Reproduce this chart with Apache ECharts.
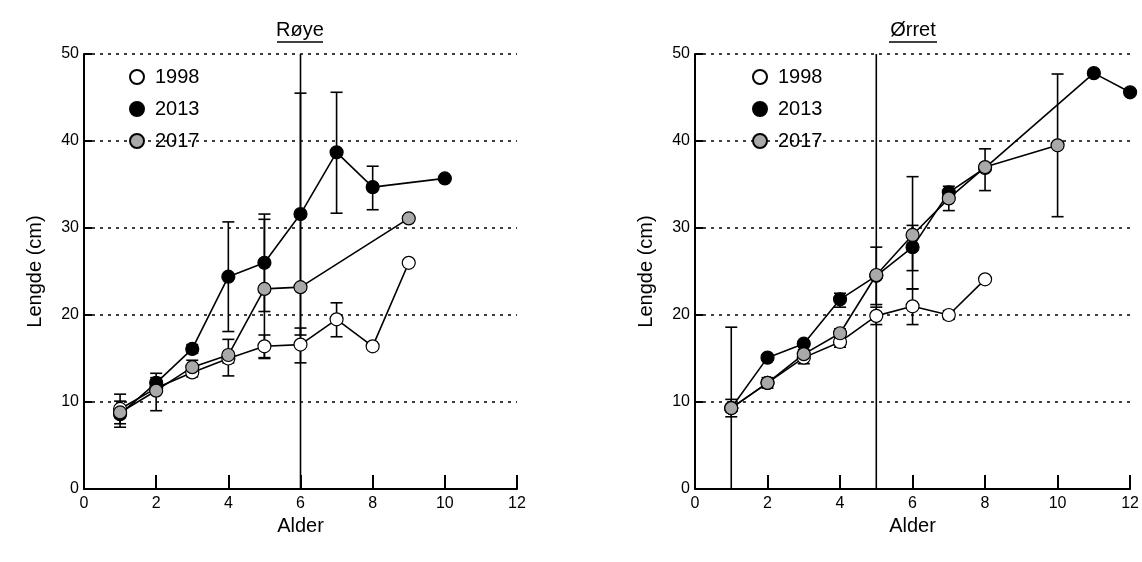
<!DOCTYPE html>
<html>
<head>
<meta charset="utf-8">
<script src="https://cdn.jsdelivr.net/npm/echarts@6/dist/echarts.min.js"></script>
<style>
  html, body { margin: 0; padding: 0; background: #fff; }
  #main { width: 1142px; height: 562px; }
</style>
</head>
<body>
<div id="main"></div>
<script>
// Røye (left panel)
var royeAge1998 = [1, 2, 3, 4, 5, 6, 7, 8, 9];
var royeLen1998 = [9.2, 11.6, 13.4, 15.0, 16.4, 16.6, 19.5, 16.4, 26.0];
var royeLo1998  = [7.5, 11.0, 12.9, 14.5, 15.1, 14.5, 17.5, 16.1, 25.7];
var royeHi1998  = [10.9, 12.2, 13.9, 15.5, 17.7, 18.5, 21.4, 16.7, 26.3];

var royeAge2013 = [1, 2, 3, 4, 5, 6, 7, 8, 10];
var royeLen2013 = [8.6, 12.2, 16.1, 24.4, 26.0, 31.6, 38.7, 34.7, 35.7];
var royeLo2013  = [7.1, 11.6, 15.6, 18.1, 20.4, 17.7, 31.7, 32.1, 35.5];
var royeHi2013  = [10.1, 12.8, 16.6, 30.7, 31.6, 45.5, 45.6, 37.1, 35.9];

var royeAge2017 = [1, 2, 3, 4, 5, 6, 9];
var royeLen2017 = [8.8, 11.3, 14.0, 15.4, 23.0, 23.2, 31.1];
var royeLo2017  = [8.2, 9.0, 13.2, 13.0, 15.0, -8.0, 30.8];
var royeHi2017  = [9.4, 13.3, 14.8, 17.2, 31.0, 54.0, 31.4];

// Ørret (right panel)
var orretAge1998 = [1, 2, 3, 4, 5, 6, 7, 8];
var orretLen1998 = [9.3, 12.2, 15.1, 16.9, 19.9, 21.0, 20.0, 24.1];
var orretLo1998  = [8.3, 11.6, 14.4, 16.3, 18.9, 18.9, 19.5, 23.8];
var orretHi1998  = [10.3, 12.8, 15.8, 17.5, 20.9, 23.0, 20.5, 24.4];

var orretAge2013 = [1, 2, 3, 4, 5, 6, 7, 8, 11, 12];
var orretLen2013 = [9.3, 15.1, 16.7, 21.8, 24.5, 27.8, 34.1, 36.9, 47.8, 45.6];
var orretLo2013  = [8.9, 14.8, 16.4, 20.9, 21.2, 25.1, 33.8, 36.6, 47.6, 45.4];
var orretHi2013  = [9.7, 15.4, 17.0, 22.5, 27.8, 30.3, 34.4, 37.2, 48.0, 45.8];

var orretAge2017 = [1, 2, 3, 4, 5, 6, 7, 8, 10];
var orretLen2017 = [9.3, 12.2, 15.5, 17.9, 24.6, 29.2, 33.4, 37.0, 39.5];
var orretLo2017  = [-0.1, 11.9, 15.0, 17.4, -5.4, 23.0, 32.0, 34.3, 31.3];
var orretHi2017  = [18.6, 12.5, 16.0, 18.4, 54.6, 35.9, 34.8, 39.1, 47.7];

var years = ['1998', '2013', '2017'];

var FONT = 'Liberation Sans, Arial, sans-serif';
var fills = { '1998': '#ffffff', '2013': '#000000', '2017': '#a9a9a9' };

function errorSeries(grid, name, ages, lo, hi) {
    return {
        name: name + ' sd',
        type: 'custom',
        xAxisIndex: grid,
        yAxisIndex: grid,
        silent: true,
        clip: true,
        z: 1,
        encode: { x: 0, y: [1, 2] },
        data: ages.map(function (a, i) { return [a, lo[i], hi[i]]; }),
        renderItem: function (params, api) {
            var x = api.value(0);
            var p1 = api.coord([x, api.value(1)]);
            var p2 = api.coord([x, api.value(2)]);
            var w = 6;
            var st = { stroke: '#000', lineWidth: 1.6 };
            return {
                type: 'group',
                children: [
                    { type: 'line', shape: { x1: p1[0], y1: p1[1], x2: p2[0], y2: p2[1] }, style: st },
                    { type: 'line', shape: { x1: p1[0] - w, y1: p1[1], x2: p1[0] + w, y2: p1[1] }, style: st },
                    { type: 'line', shape: { x1: p2[0] - w, y1: p2[1], x2: p2[0] + w, y2: p2[1] }, style: st }
                ]
            };
        }
    };
}

function lineSeries(grid, name, ages, len) {
    return {
        name: name,
        type: 'line',
        xAxisIndex: grid,
        yAxisIndex: grid,
        z: 3,
        symbol: 'circle',
        symbolSize: 13,
        animation: false,
        lineStyle: { color: '#000', width: 1.6 },
        itemStyle: { color: fills[name], borderColor: '#000', borderWidth: 1.2 },
        data: ages.map(function (a, i) { return [a, len[i]]; })
    };
}

function xAxis(grid) {
    return {
        gridIndex: grid,
        type: 'value',
        min: 0, max: 12, interval: 2,
        name: 'Alder',
        nameLocation: 'middle',
        nameGap: 27,
        nameTextStyle: { fontFamily: FONT, fontSize: 20, color: '#000' },
        axisLine: { onZero: false, lineStyle: { color: '#000', width: 2 } },
        axisTick: { inside: true, length: 14, lineStyle: { color: '#000', width: 2 } },
        axisLabel: { margin: 7, fontFamily: FONT, fontSize: 16, color: '#000' },
        splitLine: { show: false }
    };
}

function yAxis(grid) {
    return {
        gridIndex: grid,
        type: 'value',
        min: 0, max: 50, interval: 10,
        name: 'Lengde (cm)',
        nameLocation: 'middle',
        nameGap: 39,
        nameTextStyle: { fontFamily: FONT, fontSize: 20, color: '#000' },
        axisLine: { show: true, lineStyle: { color: '#000', width: 2 } },
        axisTick: { show: true, inside: true, length: 8, lineStyle: { color: '#000', width: 2 } },
        axisLabel: { margin: 5, fontFamily: FONT, fontSize: 16, color: '#000' },
        splitLine: { show: true, lineStyle: { color: '#000', width: 1.5, type: [3, 5] } }
    };
}

function legend(left) {
    return {
        data: years,
        orient: 'vertical',
        left: left,
        top: 62,
        icon: 'circle',
        itemWidth: 14,
        itemHeight: 14,
        itemGap: 12,
        selectedMode: false,
        textStyle: { fontFamily: FONT, fontSize: 20, color: '#000', padding: [0, 0, 0, 6] }
    };
}

function titleText(cx, txt, halfW) {
    return [
        { type: 'text', style: { text: txt, x: cx, y: 30, align: 'center', verticalAlign: 'middle',
          font: '20px ' + FONT, fill: '#000' } },
        { type: 'line', shape: { x1: cx - halfW, y1: 42, x2: cx + halfW, y2: 42 },
          style: { stroke: '#000', lineWidth: 1.5 } }
    ];
}

var chart = echarts.init(document.getElementById('main'));
chart.setOption({
    animation: false,
    grid: [
        { left: 84, top: 54, width: 433, height: 435 },
        { left: 695, top: 54, width: 436, height: 435 }
    ],
    xAxis: [xAxis(0), xAxis(1)],
    yAxis: [yAxis(0), yAxis(1)],
    legend: [legend(124), legend(747)],
    graphic: titleText(300, 'Røye', 23).concat(titleText(913, 'Ørret', 24)),
    series: [
        errorSeries(0, '1998', royeAge1998, royeLo1998, royeHi1998),
        errorSeries(0, '2013', royeAge2013, royeLo2013, royeHi2013),
        errorSeries(0, '2017', royeAge2017, royeLo2017, royeHi2017),
        lineSeries(0, '1998', royeAge1998, royeLen1998),
        lineSeries(0, '2013', royeAge2013, royeLen2013),
        lineSeries(0, '2017', royeAge2017, royeLen2017),
        errorSeries(1, '1998', orretAge1998, orretLo1998, orretHi1998),
        errorSeries(1, '2013', orretAge2013, orretLo2013, orretHi2013),
        errorSeries(1, '2017', orretAge2017, orretLo2017, orretHi2017),
        lineSeries(1, '1998', orretAge1998, orretLen1998),
        lineSeries(1, '2013', orretAge2013, orretLen2013),
        lineSeries(1, '2017', orretAge2017, orretLen2017)
    ]
});
</script>
</body>
</html>
